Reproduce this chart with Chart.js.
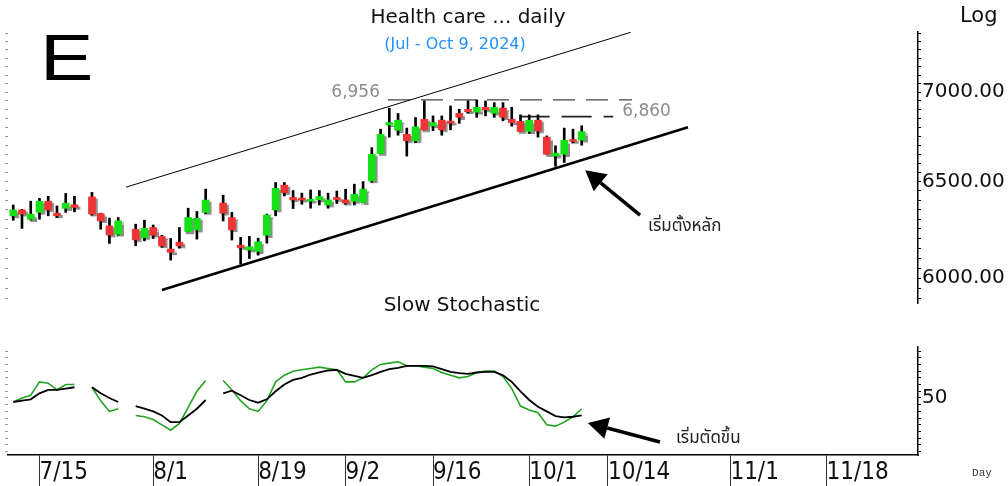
<!DOCTYPE html>
<html>
<head>
<meta charset="utf-8">
<script src="https://cdn.jsdelivr.net/npm/chart.js@4.4.1/dist/chart.umd.min.js"></script>
<style>
  html, body { margin: 0; padding: 0; background: #fff; }
  #wrap { position: relative; width: 1008px; height: 486px; overflow: hidden; }
  #priceCanvas { position: absolute; left: 0; top: 0; }
  #stochCanvas { position: absolute; left: 0; top: 318px; }
</style>
</head>
<body>
<div id="wrap">
  <canvas id="priceCanvas" width="1008" height="318"></canvas>
  <canvas id="stochCanvas" width="1008" height="168"></canvas>
</div>
<script>
// Health care index, daily, Jul - Oct 9 2024 (weekday axis, holidays left empty)
const days = ['7/10','7/11','7/12','7/15','7/16','7/17','7/18','7/19','7/22','7/23','7/24','7/25','7/26','7/29','7/30','7/31',
  '8/1','8/2','8/5','8/6','8/7','8/8','8/9','8/12','8/13','8/14','8/15','8/16','8/19','8/20','8/21','8/22','8/23','8/26','8/27','8/28','8/29','8/30',
  '9/2','9/3','9/4','9/5','9/6','9/9','9/10','9/11','9/12','9/13','9/16','9/17','9/18','9/19','9/20','9/23','9/24','9/25','9/26','9/27','9/30',
  '10/1','10/2','10/3','10/4','10/7','10/8','10/9'];

const open  = [6318,6349,6300,6336,6395,6332,6357,6376,null,6418,6330,6265,6222,null,6248,6205,6257,6210,6146,6181,6236,6244,6336,null,
  6385,6309,6166,6141,6134,6217,6349,6481,6415,6406,6395,6402,6375,6408,6402,6394,6389,6504,6653,6813,6783,6760,6724,6845,
  6807,6840,6833,6879,6901,6885,6913,6879,6909,6845,6833,6776,6840,6744,6639,6649,6724,6727];
const high  = [6375,6352,6395,6410,6421,6370,6436,6421,null,6442,6332,6306,6309,null,6274,6295,6270,6217,6200,6257,6358,6341,6459,null,
  6427,6336,6206,6211,6202,6327,6495,6495,6452,6438,6455,6452,6438,6449,6459,6486,6500,6686,6789,6908,6878,6795,6855,6950,
  6864,6864,6921,6902,6950,6956,6950,6940,6940,6913,6870,6870,6870,6751,6696,6795,6789,6808];
const low   = [6295,6252,6296,6300,6318,6309,6336,6339,null,6322,6248,6175,6218,null,6163,6188,6200,6155,6090,6151,6236,6197,6330,null,
  6291,6192,6070,6098,6115,6176,6318,6423,6356,6379,6358,6375,6358,6383,6379,6375,6389,6497,6653,6744,6755,6639,6714,6785,
  6780,6755,6785,6822,6880,6856,6864,6856,6836,6806,6776,6765,6744,6649,6583,6604,6713,6699];
const close = [6349,6327,6327,6395,6349,6318,6385,6362,null,6327,6291,6218,6292,null,6193,6253,6217,6162,6129,6162,6309,6305,6401,null,
  6332,6245,6154,6158,6183,6322,6464,6441,6402,6401,6401,6420,6402,6404,6385,6432,6459,6649,6760,6826,6840,6724,6802,6785,
  6826,6785,6823,6856,6888,6913,6899,6913,6856,6826,6776,6840,6779,6649,6655,6727,6720,6775];

// Slow stochastic %K (green) and %D (black)
const stochK = [47,50,52,62,61,56,60,60,null,58,48,40,42,null,37,36,34,30,26,31,43,55,63,null,
  63,56,48,42,40,48,62,67,70,71,72,73,72,71,62,62,65,71,75,76,77,74,74,73,72,69,67,65,66,69,70,70,66,57,44,41,39,30,29,32,36,42];
const stochD = [47,48,49,53.5,56,56,57,58,null,58,53.5,50,47,null,44,42,40,37,32,32,37,42,48.5,null,
  53.5,55.5,52,48.5,46.5,49,55,60,63.5,65,67.5,69,70.5,71,68,66.5,65,67,69.5,71.5,72.5,74,74,74,73.5,71.5,69.5,68.5,68,69,69.5,69.5,67,62,55,48.5,43.5,40,36.5,35.5,36,37];

// axis labels
const xTickLabels = ['7/15','8/1','8/19','9/2','9/16','10/1','10/14','11/1','11/18'];
const priceLabels = [6000, 6500, 7000];
const stochLabels = [50];

// drawn studies: [weekday index, value] end points
const upperChannel = [[12.9, 6470], [70.6, 7357]];
const supportLine  = [[17.0, 5941], [77.15, 6800]];
const levelValues  = [6956, 6860];
const levelSpans   = [[42.85, 70.75], [57.9, 68.6]];
const priceArrow   = [[71.67, 6322], [65.4, 6562]];
const stochArrow   = [[73.95, 17.2], [65.7, 31.4]];

const colors = { up: '#16e016', down: '#ee3535', kLine: '#22a322', dLine: '#000000', note: '#8c8c8c' };
const xMin = -0.6, xMax = 103.45;
const priceMin = 5877, priceMax = 7359;
const stochMin = 7.5, stochMax = 88;

const startDate = new Date(2024, 6, 10);
function weekdayIndex(label) {
  const [m, d] = label.split('/').map(Number);
  const end = new Date(2024, m - 1, d);
  let n = 0;
  for (let t = new Date(startDate); t < end; t.setDate(t.getDate() + 1)) {
    const wd = t.getDay();
    if (wd !== 0 && wd !== 6) n++;
  }
  return n;
}

function steps(from, to, step) {
  const out = [];
  for (let v = from; v <= to + 1e-9; v += step) out.push(v);
  return out;
}
const priceTickValues = steps(5900, 7350, 50);
const stochTickValues = steps(10, 85, 5);

const bodies = [], wicks = [];
days.forEach((d, i) => {
  if (open[i] == null) return;
  bodies.push({ x: i, y: [open[i], close[i]] });
  wicks.push({ x: i, y: [low[i], high[i]] });
});

function drawArrow(ctx, x1, y1, x2, y2, w, head) {
  const ang = Math.atan2(y2 - y1, x2 - x1);
  const bx = x2 - head * Math.cos(ang), by = y2 - head * Math.sin(ang);
  ctx.save();
  ctx.strokeStyle = '#000';
  ctx.fillStyle = '#000';
  ctx.lineWidth = w;
  ctx.beginPath(); ctx.moveTo(x1, y1); ctx.lineTo(bx, by); ctx.stroke();
  ctx.beginPath();
  ctx.moveTo(x2, y2);
  ctx.lineTo(bx + head * 0.55 * Math.sin(ang), by - head * 0.55 * Math.cos(ang));
  ctx.lineTo(bx - head * 0.55 * Math.sin(ang), by + head * 0.55 * Math.cos(ang));
  ctx.closePath(); ctx.fill();
  ctx.restore();
}

function text(ctx, str, x, y, font, color, align, sx) {
  ctx.save();
  ctx.font = font;
  ctx.fillStyle = color;
  ctx.textAlign = align || 'left';
  ctx.textBaseline = 'middle';
  ctx.translate(x, y);
  if (sx) ctx.scale(sx, 1);
  ctx.fillText(str, 0, 0);
  ctx.restore();
}

const thaiFont = "'Noto Sans Thai', 'Noto Sans', 'DejaVu Sans', sans-serif";

// small drop shadow under candle bodies
const candleShadow = {
  id: 'candleShadow',
  beforeDatasetDraw(chart, args) {
    if (!chart.data.datasets[args.index].shadow) return;
    const ctx = chart.ctx;
    ctx.save();
    ctx.shadowColor = 'rgba(0,0,0,0.45)';
    ctx.shadowOffsetX = 2;
    ctx.shadowOffsetY = 2;
    ctx.shadowBlur = 1;
  },
  afterDatasetDraw(chart, args) {
    if (chart.data.datasets[args.index].shadow) chart.ctx.restore();
  }
};

const priceNotes = {
  id: 'priceNotes',
  afterDraw(chart) {
    const ctx = chart.ctx, xs = chart.scales.x, ys = chart.scales.y;
    text(ctx, 'E', 40, 62, "64px 'Liberation Sans', Arial, sans-serif", '#000', 'left', 1.25);
    text(ctx, 'Health care ... daily', 468, 18, "20px 'DejaVu Sans', sans-serif", '#111', 'center');
    text(ctx, '(Jul - Oct 9, 2024)', 455, 45, "16px 'DejaVu Sans', sans-serif", '#1e90ff', 'center');
    text(ctx, 'Log', 960, 17, "21px 'DejaVu Sans', sans-serif", '#111', 'left');
    text(ctx, 'Slow Stochastic', 462, 306, "20px 'DejaVu Sans', sans-serif", '#111', 'center');

    const lf = "17px 'DejaVu Sans', sans-serif";
    text(ctx, '6,956', xs.getPixelForValue(levelSpans[0][0]) - 8, ys.getPixelForValue(levelValues[0]) - 7, lf, colors.note, 'right');
    text(ctx, '6,860', xs.getPixelForValue(levelSpans[1][1]) + 9, ys.getPixelForValue(levelValues[1]) - 5, lf, colors.note, 'left');

    const tx = xs.getPixelForValue(priceArrow[0][0]), ty = ys.getPixelForValue(priceArrow[0][1]);
    drawArrow(ctx, tx, ty, xs.getPixelForValue(priceArrow[1][0]), ys.getPixelForValue(priceArrow[1][1]), 3.5, 20);
    text(ctx, 'เริ่มตั้งหลัก', tx + 8, ty + 13, '17px ' + thaiFont, '#222', 'left');
  }
};

const stochNotes = {
  id: 'stochNotes',
  afterDraw(chart) {
    const ctx = chart.ctx, xs = chart.scales.x, ys = chart.scales.y;
    const tx = xs.getPixelForValue(stochArrow[0][0]), ty = ys.getPixelForValue(stochArrow[0][1]);
    drawArrow(ctx, tx, ty, xs.getPixelForValue(stochArrow[1][0]), ys.getPixelForValue(stochArrow[1][1]), 3.5, 20);
    text(ctx, 'เริ่มตัดขึ้น', tx + 16, ty - 2, '17px ' + thaiFont, '#222', 'left');
    text(ctx, 'Day', 982, 155, "11px 'Liberation Mono', monospace", '#333', 'center');
  }
};

const lineDs = (pts, color, width, dash) => ({
  type: 'line',
  data: pts.map(p => ({ x: p[0], y: p[1] })),
  borderColor: color,
  borderWidth: width,
  borderDash: dash || [],
  pointRadius: 0,
  fill: false,
  order: 2
});

const valueAxis = (side, min, max, tickValues, labels, opts) => Object.assign({
  position: side,
  min: min, max: max,
  bounds: 'data',
  afterBuildTicks: s => { s.ticks = tickValues.map(v => ({ value: v })); },
  afterFit: s => { s.width = side === 'right' ? 90 : 8; s.paddingTop = 0; s.paddingBottom = 0; },
  ticks: side === 'right'
    ? { autoSkip: false, padding: 1, color: '#111', font: { family: "'DejaVu Sans', sans-serif", size: 20 },
        callback: v => labels.includes(v) ? (labels === priceLabels ? v.toFixed(2) : String(v)) : '' }
    : { display: false, autoSkip: false },
  grid: { drawOnChartArea: false, drawTicks: true, tickLength: 3, color: side === 'right' ? '#000' : '#999' },
  border: { display: side === 'right', color: '#000', width: 1.5 }
}, opts);

new Chart(document.getElementById('priceCanvas'), {
  type: 'bar',
  data: {
    datasets: [
      { data: bodies, barThickness: 7, minBarLength: 2, grouped: false, shadow: true, order: 0,
        backgroundColor: c => (c.raw && c.raw.y[1] >= c.raw.y[0]) ? colors.up : colors.down },
      { data: wicks, barThickness: 2, grouped: false, order: 1, backgroundColor: '#000' },
      lineDs(upperChannel, '#000', 1),
      lineDs(supportLine, '#000', 2.5),
      lineDs(levelSpans[0].map(x => [x, levelValues[0]]), '#444', 1.2, [22, 11]),
      lineDs(levelSpans[1].map(x => [x, levelValues[1]]), '#222', 1.6, [30, 12])
    ]
  },
  options: {
    responsive: false,
    animation: false,
    events: [],
    layout: { padding: { top: 32, bottom: 15, left: 0, right: 0 } },
    plugins: { legend: { display: false }, tooltip: { enabled: false } },
    scales: {
      x: { type: 'linear', min: xMin, max: xMax, offset: false, bounds: 'data', display: false },
      y: valueAxis('right', priceMin, priceMax, priceTickValues, priceLabels, { type: 'logarithmic' }),
      yl: valueAxis('left', priceMin, priceMax, priceTickValues, priceLabels, { type: 'logarithmic' })
    }
  },
  plugins: [candleShadow, priceNotes]
});

new Chart(document.getElementById('stochCanvas'), {
  type: 'line',
  data: {
    datasets: [
      { data: days.map((d, i) => ({ x: i, y: stochD[i] })), borderColor: colors.dLine, borderWidth: 1.8, pointRadius: 0, order: 0 },
      { data: days.map((d, i) => ({ x: i, y: stochK[i] })), borderColor: colors.kLine, borderWidth: 1.6, pointRadius: 0, order: 1 }
    ]
  },
  options: {
    responsive: false,
    animation: false,
    events: [],
    spanGaps: false,
    layout: { padding: { top: 29, bottom: 0, left: 0, right: 0 } },
    plugins: { legend: { display: false }, tooltip: { enabled: false } },
    scales: {
      x: {
        type: 'linear', min: xMin, max: xMax, offset: false, bounds: 'data',
        afterBuildTicks: s => { s.ticks = xTickLabels.map(l => ({ value: weekdayIndex(l) })); },
        afterFit: s => { s.height = 31; s.paddingLeft = 0; s.paddingRight = 0; },
        ticks: {
          autoSkip: false, maxRotation: 0, align: 'start', padding: -28, color: '#111',
          font: { family: "'Liberation Sans Narrow', 'DejaVu Sans Condensed', 'Liberation Sans', sans-serif", size: 24 },
          callback: (v, i) => xTickLabels[i]
        },
        grid: { drawOnChartArea: false, drawTicks: true, tickLength: 31, color: '#333' },
        border: { display: true, color: '#000', width: 1.5 }
      },
      y: valueAxis('right', stochMin, stochMax, stochTickValues, stochLabels, { type: 'linear' }),
      yl: valueAxis('left', stochMin, stochMax, stochTickValues, stochLabels, { type: 'linear' })
    }
  },
  plugins: [stochNotes]
});
</script>
</body>
</html>
